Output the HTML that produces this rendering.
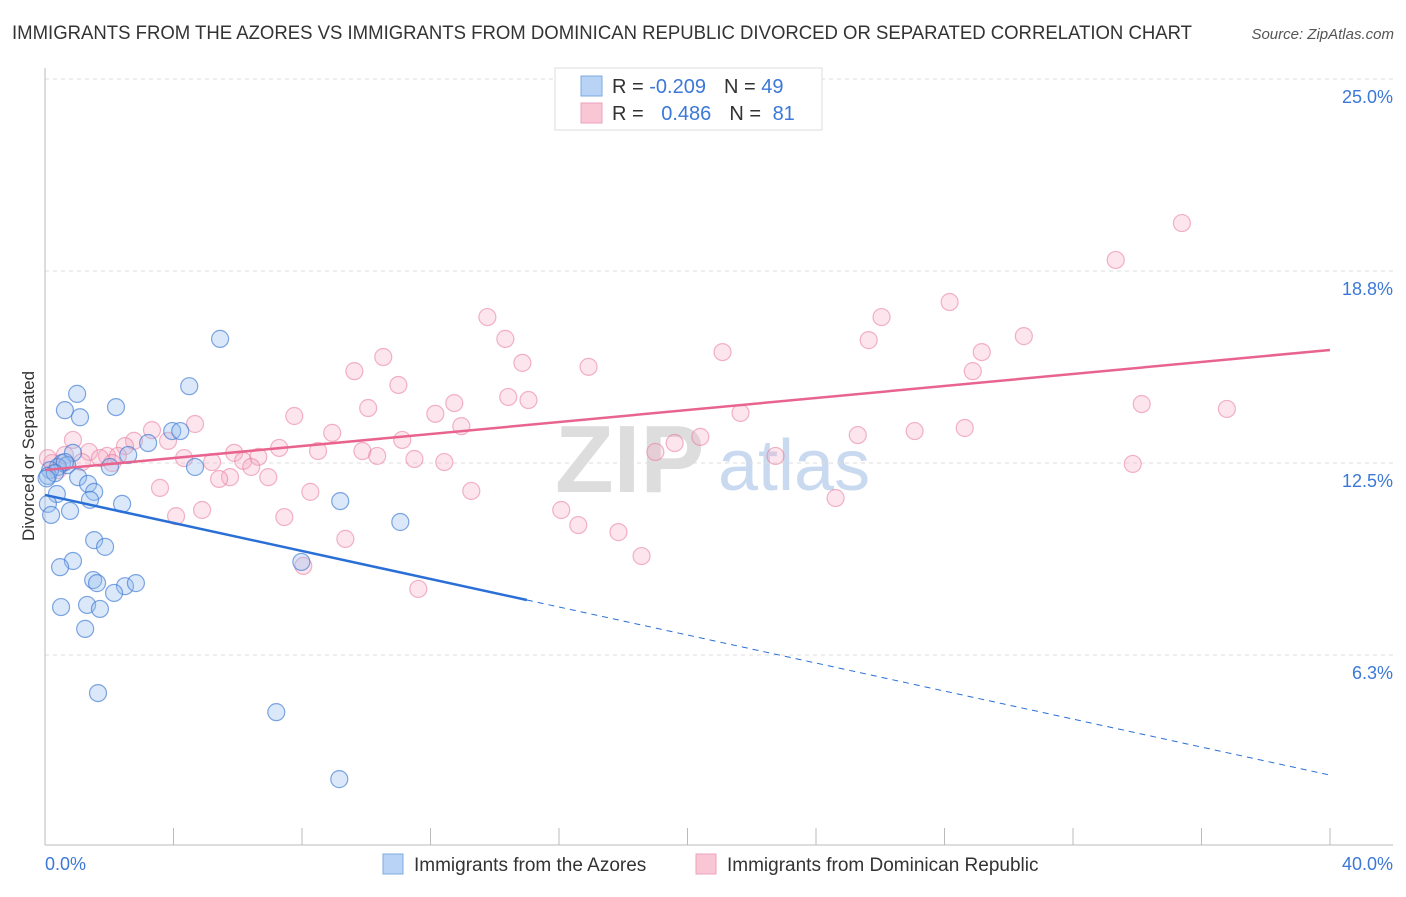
<!DOCTYPE html>
<html><head><meta charset="utf-8"><style>
body{margin:0;background:#fff;font-family:"Liberation Sans",sans-serif;}
svg text{font-family:"Liberation Sans",sans-serif;}
</style></head><body>
<svg id="chart" width="1406" height="892" xmlns="http://www.w3.org/2000/svg">
<text x="12" y="39" font-size="19" fill="#333" textLength="1180" lengthAdjust="spacingAndGlyphs">IMMIGRANTS FROM THE AZORES VS IMMIGRANTS FROM DOMINICAN REPUBLIC DIVORCED OR SEPARATED CORRELATION CHART</text>
<text x="1394" y="39" font-size="15" fill="#555" font-style="italic" text-anchor="end">Source: ZipAtlas.com</text>
<g>
<text x="555" y="492" font-size="96" fill="#ddd" font-family="Liberation Serif" font-weight="bold">ZIP</text>
<text x="718" y="490" font-size="72" fill="#c9daf0">atlas</text>
</g>
<g id="grid"></g>
<line x1="45" y1="68" x2="45" y2="845" stroke="#bbb"/>
<line x1="45" y1="845" x2="1393" y2="845" stroke="#bbb"/>
<text transform="translate(34,456) rotate(-90)" font-size="17" fill="#333" text-anchor="middle">Divorced or Separated</text>
<text x="45" y="870" font-size="18" fill="#3b78d8">0.0%</text>
<text x="1393" y="870" font-size="18" fill="#3b78d8" text-anchor="end">40.0%</text>
<g id="marks"></g>
<g>
<rect x="555" y="68" width="267" height="62" fill="#fff" stroke="#ddd"/>
<rect x="581" y="76" width="21" height="20" fill="#b8d3f5" stroke="#7fa8e0"/>
<rect x="581" y="103" width="21" height="20" fill="#f9c6d6" stroke="#eda2bb"/>
<text x="612" y="93" font-size="20" fill="#333">R = <tspan fill="#3b78d8">-0.209</tspan><tspan dx="18">N = </tspan><tspan fill="#3b78d8">49</tspan></text>
<text x="612" y="120" font-size="20" fill="#333">R = <tspan fill="#3b78d8" dx="12">0.486</tspan><tspan dx="18">N = </tspan><tspan fill="#3b78d8" dx="6">81</tspan></text>
</g>
<g>
<rect x="383" y="854" width="20" height="20" fill="#b8d3f5" stroke="#7fa8e0"/>
<text x="414" y="871" font-size="19" fill="#333">Immigrants from the Azores</text>
<rect x="696" y="854" width="20" height="20" fill="#f9c6d6" stroke="#eda2bb"/>
<text x="727" y="871" font-size="19" fill="#333">Immigrants from Dominican Republic</text>
</g>
</svg>
<script>
const yTicks=[25,18.75,12.5,6.25];
const yTickLabels=["25.0%","18.8%","12.5%","6.3%"];
const xTicks=[0,4,8,12,16,20,24,28,32,36,40];
const blueX=[5.45,1.0,4.49,0.62,1.09,2.21,3.96,4.21,3.21,2.59,0.87,0.53,0.69,0.40,0.16,2.02,4.67,1.03,1.34,0.09,1.53,0.37,1.40,2.40,0.09,0.78,0.19,9.19,11.06,1.53,1.87,0.87,0.47,7.98,1.50,1.62,2.49,2.83,2.15,1.31,0.50,1.71,1.25,1.65,7.20,9.16,0.62,0.31,0.05];
const blueY=[16.54,14.75,15.0,14.22,13.99,14.32,13.54,13.54,13.15,12.76,12.83,12.5,12.43,12.37,12.27,12.37,12.37,12.04,11.82,12.08,11.56,11.49,11.30,11.17,11.17,10.94,10.81,11.26,10.58,9.99,9.77,9.31,9.11,9.28,8.69,8.59,8.49,8.59,8.27,7.88,7.81,7.75,7.10,5.01,4.39,2.21,12.53,12.17,12.0];
const pinkX=[35.39,33.33,28.16,13.77,26.04,30.47,14.33,25.64,10.53,21.09,29.16,14.86,16.92,9.63,28.88,11.0,14.42,15.05,34.14,36.79,10.06,7.76,12.15,12.74,21.65,12.96,4.67,3.33,3.83,27.07,28.63,25.30,8.94,2.77,0.87,11.12,20.40,19.60,2.49,7.29,9.88,8.50,1.37,5.89,1.93,2.27,4.33,5.20,6.17,10.34,11.50,12.43,19.0,22.74,6.64,33.86,2.09,6.42,5.76,6.95,5.42,3.58,8.26,13.27,24.61,4.08,4.89,7.45,16.07,16.60,17.85,9.35,18.57,8.04,11.62,0.22,0.09,0.40,0.62,1.15,1.71];
const pinkY=[20.31,19.11,17.74,17.25,17.25,16.63,16.54,16.50,15.95,16.11,16.11,15.76,15.63,15.49,15.49,15.04,14.65,14.55,14.42,14.26,14.29,14.03,14.10,14.45,14.13,13.70,13.77,13.57,13.22,13.54,13.64,13.41,13.48,13.22,13.25,13.25,13.35,13.15,13.05,12.99,12.89,12.89,12.86,12.83,12.73,12.73,12.66,12.53,12.57,12.73,12.63,12.53,12.86,12.73,12.70,12.47,12.5,12.37,12.04,12.04,11.98,11.69,11.56,11.59,11.36,10.77,10.97,10.74,10.97,10.48,10.25,10.03,9.47,9.15,8.40,12.5,12.66,12.27,12.76,12.53,12.66];
const blueTrend=[11.46,2.34];
const blueSolidEnd=15.0;
const pinkTrend=[12.27,16.18];
const NS="http://www.w3.org/2000/svg";
const X=v=>45+v*(1285/40);
const Y=v=>463-(v-12.5)*30.72;
function mk(t,a,p){const e=document.createElementNS(NS,t);for(const k in a)e.setAttribute(k,a[k]);p.appendChild(e);return e;}
const grid=document.getElementById('grid'),marks=document.getElementById('marks');
yTicks.forEach((t,i)=>{
 const l=mk('line',{x1:45,x2:1393,y1:Y(t),y2:Y(t),stroke:'#ddd','stroke-dasharray':'4,4'},grid);
 
 
 const tx=mk('text',{x:1393,y:Y(t)+24,'font-size':18,fill:'#3b78d8','text-anchor':'end'},grid);
 tx.textContent=yTickLabels[i];
 
 
});
xTicks.forEach(t=>{
 const l=mk('line',{x1:X(t),x2:X(t),y1:828,y2:845,stroke:'#bbb'},grid);
 
 
});
pinkX.forEach((x,i)=>{
 const c=mk('circle',{cx:X(x),cy:Y(pinkY[i]),r:8.5,fill:'rgba(246,170,195,0.3)',stroke:'rgba(232,120,155,0.55)','stroke-width':1.2},marks);
 
 
});
blueX.forEach((x,i)=>{
 const c=mk('circle',{cx:X(x),cy:Y(blueY[i]),r:8.5,fill:'rgba(150,190,238,0.35)',stroke:'rgba(60,120,210,0.65)','stroke-width':1.2},marks);
 
 
});
const bAt=x=>blueTrend[0]+(blueTrend[1]-blueTrend[0])*x/40;
let t1=mk('line',{x1:X(0),y1:Y(bAt(0)),x2:X(blueSolidEnd),y2:Y(bAt(blueSolidEnd)),stroke:'#2a6fd6','stroke-width':2.5},marks);


let t2=mk('line',{x1:X(blueSolidEnd),y1:Y(bAt(blueSolidEnd)),x2:X(40),y2:Y(bAt(40)),stroke:'#2a6fd6','stroke-width':1,'stroke-dasharray':'6,5'},marks);


let t3=mk('line',{x1:X(0),y1:Y(pinkTrend[0]),x2:X(40),y2:Y(pinkTrend[1]),stroke:'#e8648e','stroke-width':2.5},marks);


</script>
</body></html>
